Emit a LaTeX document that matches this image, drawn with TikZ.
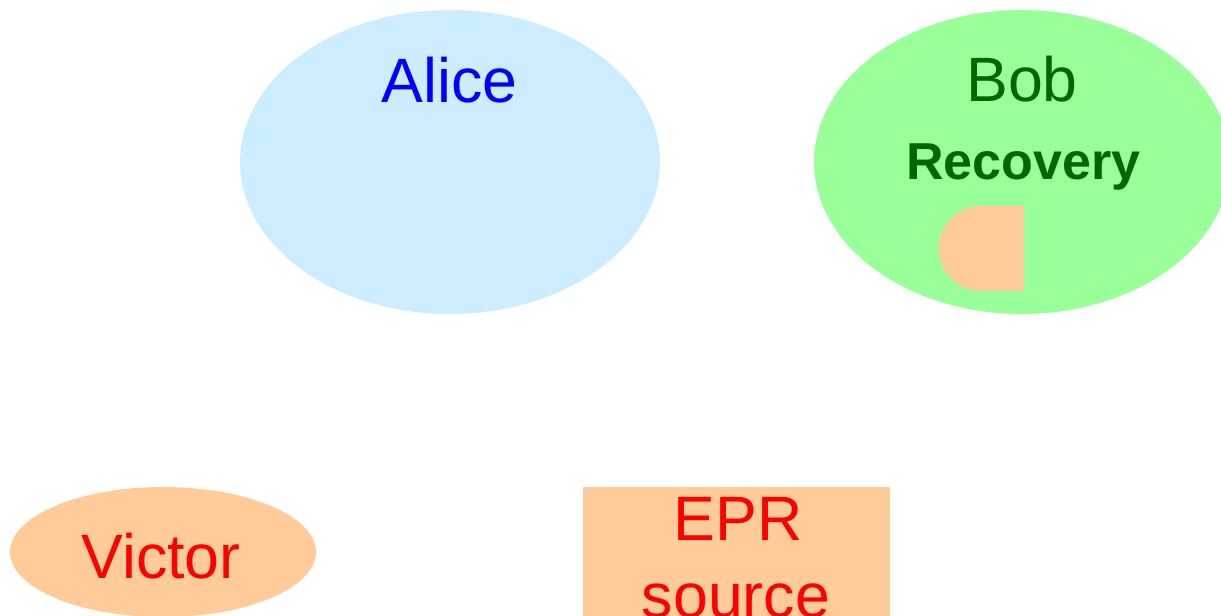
\documentclass[tikz,border=0pt]{standalone}
\usepackage{fontspec}
\setmainfont{Liberation Sans}
\definecolor{alicefill}{RGB}{204,236,255}
\definecolor{bobfill}{RGB}{153,255,153}
\definecolor{peach}{RGB}{255,204,153}
\definecolor{bobtext}{RGB}{0,102,0}
\begin{document}
\begin{tikzpicture}[x=0.75pt,y=-0.75pt,
  bigtext/.style={anchor=base,inner sep=0pt,font=\fontsize{47pt}{54pt}\selectfont},
  boldtext/.style={anchor=base,inner sep=0pt,font=\fontsize{39pt}{46pt}\selectfont\bfseries}]
\useasboundingbox (0,0) rectangle (1221,616);
\clip (0,0) rectangle (1221,616);
% party regions
\fill[alicefill] (450,162) ellipse [x radius=210,y radius=152];
\fill[bobfill] (1022,162) ellipse [x radius=208,y radius=152];
\fill[peach] (163,552) ellipse [x radius=153,y radius=65];
% EPR source box
\fill[peach] (583,487) rectangle (890,630);
% recovery device (D-shaped)
\fill[peach] (1024,206) -- (981,206) arc[start angle=270,end angle=90,radius=42.5] -- (1024,291) -- cycle;
% labels
\node[bigtext,text=blue] (alice) at (449.5,103) {Alice};
\node[bigtext,text=bobtext] (bob) at (1022,102) {Bob};
\node[boldtext,text=bobtext] (recovery) at (1023.5,180) {Recovery};
\node[bigtext,text=red] (victor) at (161,578) {Victor};
\node[bigtext,text=red] (epr) at (738,540) {EPR};
\node[bigtext,text=red] (source) at (736,617) {source};
\end{tikzpicture}
\end{document}
